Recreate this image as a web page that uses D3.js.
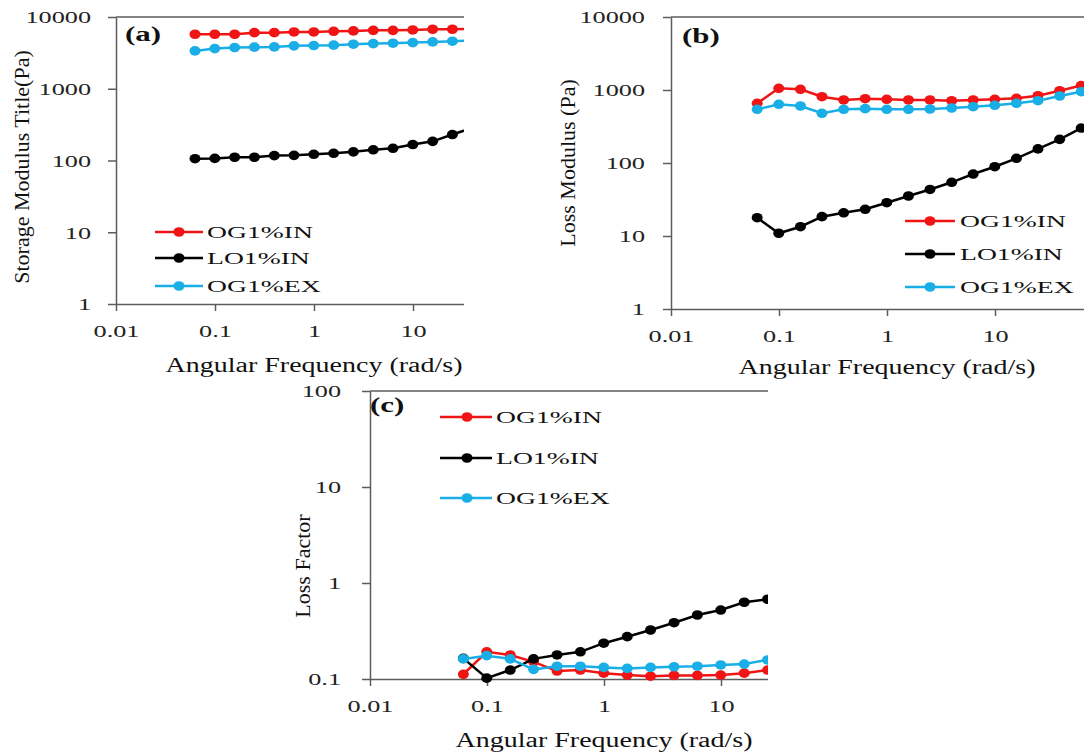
<!DOCTYPE html>
<html>
<head>
<meta charset="utf-8">
<script src="https://cdn.jsdelivr.net/npm/d3@7"></script>
<style>
  body { margin: 0; background: #fff; }
  svg { display: block; font-family: "Liberation Serif", "Times New Roman", serif; }
  .axis path, .axis line { stroke: #5c5c5c; stroke-width: 1.5; }
  .axis text { fill: #222; font-size: 17.5px; font-family: "Liberation Serif", serif; }
</style>
</head>
<body>
<svg id="chart" width="1084" height="755"></svg>
<script>
// ---- DATA ----
const freq = [0.0628, 0.0995, 0.158, 0.25, 0.397, 0.628, 0.995, 1.58, 2.5, 3.97, 6.28, 9.95, 15.8, 25.0, 39.7, 62.8]

const seriesNames  = ['OG1%IN', 'LO1%IN', 'OG1%EX']
const seriesColors = ['#f01414', '#000000', '#19aee6']

// (a) storage modulus, Pa
const storageOG1IN = [5750, 5750, 5750, 6050, 6050, 6190, 6190, 6320, 6400, 6520, 6520, 6600, 6750, 6750, 6800]
const storageLO1IN = [106, 107, 111, 111, 117, 118, 122, 126, 132, 141, 148, 167, 185, 230, 285]
const storageOG1EX = [3370, 3630, 3750, 3800, 3830, 3960, 4000, 4050, 4180, 4260, 4310, 4400, 4500, 4600, 4700]

// (b) loss modulus, Pa
const lossOG1IN = [658, 1055, 1023, 809, 730, 760, 746, 730, 730, 714, 730, 746, 770, 835, 977, 1150]
const lossLO1IN = [17.8, 10.9, 13.4, 18.4, 20.8, 23.2, 28.6, 35.3, 43.4, 54.4, 70.6, 88.9, 116, 156, 211, 301]
const lossOG1EX = [544, 637, 604, 480, 544, 555, 544, 544, 549, 567, 590, 617, 658, 714, 828, 948]

// (c) loss factor
const tanOG1IN = [0.112, 0.192, 0.178, 0.151, 0.121, 0.124, 0.115, 0.110, 0.107, 0.109, 0.109, 0.110, 0.115, 0.124]
const tanLO1IN = [0.164, 0.102, 0.124, 0.162, 0.178, 0.192, 0.236, 0.276, 0.324, 0.386, 0.464, 0.523, 0.630, 0.677]
const tanOG1EX = [0.162, 0.175, 0.162, 0.126, 0.136, 0.136, 0.132, 0.129, 0.132, 0.134, 0.136, 0.140, 0.143, 0.158]

const xTicks = [0.01, 0.1, 1, 10]
const modulusTicks = [1, 10, 100, 1000, 10000]
const factorTicks = [0.1, 1, 10, 100]

// ---- LAYOUT ----
const panels = [
    { id: 'a', label: '(a)', yTitle: 'Storage Modulus Title(Pa)', series: [storageOG1IN, storageLO1IN, storageOG1EX],
      yDomain: [1, 10000], yTicks: modulusTicks, x0: 116, x1: 512, y0: 304, y1: 17,
      clip: [0, 0, 464, 380], labelPos: [125, 41], yTitlePos: [29, 167], xTitleY: 372, tickEnd: 91,
      legend: { x0: 155, x1: 203, mx: 179, tx: 207, rows: [232, 258, 286] } },
    { id: 'b', label: '(b)', yTitle: 'Loss Modulus (Pa)', series: [lossOG1IN, lossLO1IN, lossOG1EX],
      yDomain: [1, 10000], yTicks: modulusTicks, x0: 671, x1: 1103, y0: 309, y1: 17,
      clip: [555, 0, 529, 380], labelPos: [682, 43], yTitlePos: [575, 163], xTitleY: 374, tickEnd: 645,
      legend: { x0: 905, x1: 955, mx: 930, tx: 960, rows: [221, 254, 287] } },
    { id: 'c', label: '(c)', yTitle: 'Loss Factor', series: [tanOG1IN, tanLO1IN, tanOG1EX],
      yDomain: [0.1, 100], yTicks: factorTicks, x0: 370, x1: 838, y0: 679, y1: 391,
      clip: [280, 380, 488, 375], labelPos: [370, 412], yTitlePos: [310, 566], xTitleY: 747, tickEnd: 341,
      legend: { x0: 440, x1: 492, mx: 467, tx: 496, rows: [417, 458, 498] } }
]

const svg = d3.select('#chart')
const defs = svg.append('defs')

// stretched text helper (the source picture is widened horizontally)
function addText(g, x, y, str, size, sx, anchor = 'start', weight = 'normal') {
    return g.append('text')
        .attr('transform', `translate(${x},${y}) scale(${sx},1)`)
        .attr('text-anchor', anchor)
        .style('font-size', size + 'px')
        .style('font-weight', weight)
        .attr('fill', '#111')
        .text(str)
}

panels.forEach(p => {
    defs.append('clipPath').attr('id', `clip-${p.id}`)
        .append('rect').attr('x', p.clip[0]).attr('y', p.clip[1]).attr('width', p.clip[2]).attr('height', p.clip[3])

    const g = svg.append('g').attr('clip-path', `url(#clip-${p.id})`)

    const x = d3.scaleLog().domain([0.01, 100]).range([p.x0, p.x1])
    const y = d3.scaleLog().domain(p.yDomain).range([p.y0, p.y1])

    // top frame line
    g.append('line').attr('x1', p.x0).attr('x2', p.x1).attr('y1', p.y1).attr('y2', p.y1)
        .attr('stroke', '#5c5c5c').attr('stroke-width', 1.5)

    // axes
    const yAxis = g.append('g').attr('class', 'axis').attr('transform', `translate(${p.x0},0)`)
        .call(d3.axisLeft(y).tickValues(p.yTicks).tickFormat(d => String(d)).tickSize(8).tickSizeOuter(0))
    yAxis.selectAll('text')
        .attr('x', (p.tickEnd - p.x0) / 1.5)
        .attr('dy', '0.34em')
        .attr('transform', 'scale(1.5,1)')

    const xAxis = g.append('g').attr('class', 'axis').attr('transform', `translate(0,${p.y0})`)
        .call(d3.axisBottom(x).tickValues(xTicks).tickFormat(d => String(d)).tickSize(7).tickSizeOuter(0))
    xAxis.selectAll('text')
        .attr('y', 27)
        .attr('dy', '0.34em')
        .attr('transform', 'scale(1.5,1)')
        .attr('x', 0)

    // titles
    addText(g, (p.x0 + p.x1) / 2, p.xTitleY, 'Angular Frequency (rad/s)', 20, 1.4, 'middle')
    g.append('text')
        .attr('transform', `translate(${p.yTitlePos[0]},${p.yTitlePos[1]}) rotate(-90)`)
        .attr('text-anchor', 'middle')
        .style('font-size', '22px')
        .attr('fill', '#111')
        .text(p.yTitle)
    addText(g, p.labelPos[0], p.labelPos[1], p.label, 20, 1.55, 'start', 'bold')

    // series
    const line = d3.line().x(d => x(d[0])).y(d => y(d[1]))
    p.series.forEach((vals, i) => {
        const pts = vals.map((v, j) => [freq[j], v])
        g.append('path').datum(pts)
            .attr('d', line)
            .attr('fill', 'none')
            .attr('stroke', seriesColors[i])
            .attr('stroke-width', 2.5)
        g.selectAll(null).data(pts).join('ellipse')
            .attr('cx', d => x(d[0]))
            .attr('cy', d => y(d[1]))
            .attr('rx', 5.5).attr('ry', 4.8)
            .attr('fill', seriesColors[i])
    })

    // legend
    const lg = p.legend
    seriesNames.forEach((name, i) => {
        const ry = lg.rows[i]
        g.append('line').attr('x1', lg.x0).attr('x2', lg.x1).attr('y1', ry).attr('y2', ry)
            .attr('stroke', seriesColors[i]).attr('stroke-width', 2.5)
        g.append('ellipse').attr('cx', lg.mx).attr('cy', ry).attr('rx', 5.5).attr('ry', 4.8)
            .attr('fill', seriesColors[i])
        addText(g, lg.tx, ry + 6, name, 17.5, 1.58)
    })
})
</script>
</body>
</html>
